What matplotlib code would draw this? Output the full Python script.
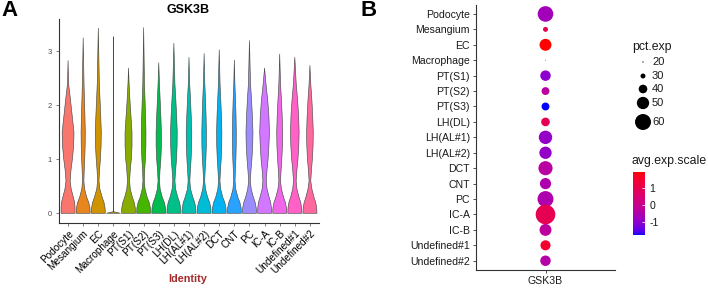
import numpy as np
import matplotlib
matplotlib.use("Agg")
import matplotlib.pyplot as plt
from matplotlib.colors import LinearSegmentedColormap, Normalize
from matplotlib.patches import Polygon
import matplotlib.colorbar as mcolorbar

plt.rcParams['font.family'] = ['Liberation Sans', 'DejaVu Sans']

# ---------------- data ----------------
categories = ["Podocyte", "Mesangium", "EC", "Macrophage", "PT(S1)", "PT(S2)", "PT(S3)",
              "LH(DL)", "LH(AL#1)", "LH(AL#2)", "DCT", "CNT", "PC", "IC-A", "IC-B",
              "Undefined#1", "Undefined#2"]

# violin maxima (expression level)
violin_max = [2.83, 3.25, 3.43, 3.27, 2.69, 3.44, 2.79, 3.15, 2.89, 2.96, 3.03, 2.84,
              3.20, 2.69, 2.95, 2.89, 2.74]
# relative half-widths of each violin at these expression levels
violin_levels = [0, 0.03, 0.1, 0.2, 0.3, 0.45, 0.6, 0.8, 1.0, 1.25, 1.5, 1.8, 2.1, 2.4]
violin_widths = [
    [1, 1, 1, 0.95, 0.75, 0.45, 0.30, 0.42, 0.62, 0.80, 0.85, 0.60, 0.35, 0.08],
    [1, 1, 0.97, 0.80, 0.50, 0.20, 0.10, 0.15, 0.22, 0.28, 0.30, 0.25, 0.18, 0.12],
    [1, 1, 0.97, 0.82, 0.55, 0.22, 0.10, 0.18, 0.30, 0.40, 0.43, 0.35, 0.25, 0.15],
    [1, 0.02, 0.015, 0.01, 0.01, 0.01, 0.01, 0.01, 0.01, 0.01, 0.01, 0.01, 0.01, 0.01],
    [1, 1, 0.97, 0.82, 0.55, 0.25, 0.15, 0.25, 0.40, 0.50, 0.50, 0.35, 0.20, 0.08],
    [1, 1, 0.97, 0.80, 0.50, 0.20, 0.10, 0.15, 0.25, 0.32, 0.33, 0.28, 0.20, 0.12],
    [1, 1, 0.97, 0.80, 0.50, 0.20, 0.10, 0.18, 0.30, 0.38, 0.38, 0.30, 0.20, 0.10],
    [1, 1, 0.97, 0.82, 0.55, 0.25, 0.15, 0.25, 0.38, 0.46, 0.48, 0.40, 0.28, 0.15],
    [1, 1, 0.97, 0.82, 0.55, 0.22, 0.12, 0.20, 0.30, 0.38, 0.40, 0.32, 0.22, 0.10],
    [1, 1, 0.97, 0.80, 0.50, 0.20, 0.08, 0.15, 0.25, 0.32, 0.33, 0.28, 0.20, 0.10],
    [1, 1, 0.97, 0.80, 0.50, 0.20, 0.10, 0.18, 0.28, 0.36, 0.38, 0.32, 0.22, 0.12],
    [1, 1, 0.97, 0.80, 0.50, 0.20, 0.10, 0.15, 0.22, 0.27, 0.28, 0.24, 0.17, 0.08],
    [1, 1, 0.97, 0.82, 0.55, 0.25, 0.12, 0.22, 0.35, 0.46, 0.50, 0.42, 0.30, 0.15],
    [1, 1, 0.98, 0.88, 0.65, 0.35, 0.24, 0.35, 0.50, 0.62, 0.70, 0.62, 0.45, 0.20],
    [1, 1, 0.97, 0.82, 0.55, 0.25, 0.12, 0.20, 0.30, 0.40, 0.43, 0.36, 0.25, 0.12],
    [1, 1, 0.98, 0.85, 0.60, 0.30, 0.19, 0.30, 0.45, 0.57, 0.62, 0.55, 0.40, 0.20],
    [1, 1, 0.97, 0.83, 0.58, 0.28, 0.12, 0.22, 0.35, 0.45, 0.48, 0.40, 0.28, 0.12],
]

# dot plot
pct_exp = [59, 30, 49, 19, 45, 38, 38, 40, 53, 50, 55, 47, 60, 70, 49, 44, 45]
avg_exp_scale = [-0.7, 1.0, 1.94, 1.2, -1.0, -0.3, -1.76, 0.9, -0.9, -0.9, -0.3, -0.5,
                 -0.5, 1.0, -0.2, 1.5, -0.4]
pct_legend = [20, 30, 40, 50, 60]
cbar_ticks = [-1, 0, 1]
gene = "GSK3B"

# ---------------- helpers (colour spaces) ----------------
def hcl_to_rgb(h, c=100.0, l=65.0):
    Xn, Yn, Zn = 95.047, 100.0, 108.883
    un = 4 * Xn / (Xn + 15 * Yn + 3 * Zn)
    vn = 9 * Yn / (Xn + 15 * Yn + 3 * Zn)
    hr = np.deg2rad(h)
    u, v = c * np.cos(hr), c * np.sin(hr)
    Y = Yn * ((l + 16) / 116) ** 3
    up = u / (13 * l) + un
    vp = v / (13 * l) + vn
    X = 9.0 * Y * up / (4 * vp)
    Z = -X / 3 - 5 * Y + 3 * Y / vp
    M = np.array([[3.240479, -1.537150, -0.498535],
                  [-0.969256, 1.875992, 0.041556],
                  [0.055648, -0.204043, 1.057311]])
    rgb = M @ (np.array([X, Y, Z]) / 100.0)
    rgb = np.where(rgb <= 0.0031308, 12.92 * rgb, 1.055 * np.power(np.clip(rgb, 0, None), 1 / 2.4) - 0.055)
    return tuple(np.clip(rgb, 0, 1))

def srgb_to_lab(rgb):
    rgb = np.asarray(rgb, float)
    lin = np.where(rgb <= 0.04045, rgb / 12.92, ((rgb + 0.055) / 1.055) ** 2.4)
    M = np.array([[0.4124, 0.3576, 0.1805], [0.2126, 0.7152, 0.0722], [0.0193, 0.1192, 0.9505]])
    xyz = M @ lin / np.array([0.95047, 1.0, 1.08883])
    f = np.where(xyz > 0.008856, np.cbrt(xyz), 7.787 * xyz + 16 / 116)
    return np.array([116 * f[1] - 16, 500 * (f[0] - f[1]), 200 * (f[1] - f[2])])

def lab_to_srgb(lab):
    L, a, b = lab
    fy = (L + 16) / 116
    fx = fy + a / 500
    fz = fy - b / 200
    f = np.array([fx, fy, fz])
    xyz = np.where(f ** 3 > 0.008856, f ** 3, (f - 16 / 116) / 7.787) * np.array([0.95047, 1.0, 1.08883])
    Minv = np.array([[3.2406, -1.5372, -0.4986], [-0.9689, 1.8758, 0.0415], [0.0557, -0.2040, 1.0570]])
    lin = Minv @ xyz
    rgb = np.where(lin <= 0.0031308, 12.92 * lin, 1.055 * np.power(np.clip(lin, 0, None), 1 / 2.4) - 0.055)
    return tuple(np.clip(rgb, 0, 1))

lab_lo = srgb_to_lab([0, 0, 1])
lab_hi = srgb_to_lab([1, 0, 0])
cmap_cols = [lab_to_srgb(lab_lo + t * (lab_hi - lab_lo)) for t in np.linspace(0, 1, 64)]
cmap = LinearSegmentedColormap.from_list("bluered", cmap_cols)
norm = Normalize(vmin=-1.76, vmax=1.94)

n = len(categories)
hues = np.linspace(15, 375, n + 1)[:-1]
violin_cols = [hcl_to_rgb(h) for h in hues]

# ---------------- figure ----------------
W, H = 708, 288
fig = plt.figure(figsize=(W / 100, H / 100), dpi=100)

def ax_px(x0, y0, x1, y1):
    return fig.add_axes([x0 / W, 1 - y1 / H, (x1 - x0) / W, (y1 - y0) / H])

# overlay axes in pixel coordinates for free text / legend
ov = fig.add_axes([0, 0, 1, 1], zorder=-1)
ov.set_xlim(0, W)
ov.set_ylim(H, 0)
ov.axis("off")

# ---- Panel A: violins ----
axA = ax_px(59, 19, 319, 223)
half = 0.46
for i in range(n):
    lv = list(violin_levels) + [violin_max[i]]
    wd = [w * half for w in violin_widths[i]] + [0.0]
    right = [(i + w, y) for y, w in zip(lv, wd)]
    left = [(i - w, y) for y, w in zip(lv[::-1], wd[::-1])]
    poly = Polygon(right + left, closed=True, facecolor=violin_cols[i],
                   edgecolor="#4a4a4a", linewidth=0.45, joinstyle="round")
    axA.add_patch(poly)
axA.set_xlim(-0.6, n - 1 + 0.6)
axA.set_ylim(-0.18, 3.6)
axA.set_yticks([0, 1, 2, 3])
axA.tick_params(axis="y", labelsize=5.5, colors="#4d4d4d", length=2, width=0.5, pad=3)
axA.set_xticks(range(n))
axA.set_xticklabels(categories, rotation=45, ha="right", rotation_mode="anchor",
                    fontsize=7.2, color="black")
axA.tick_params(axis="x", length=2, width=0.5, colors="#4d4d4d", pad=2, labelcolor="black")
for s in ["top", "right"]:
    axA.spines[s].set_visible(False)
for s in ["left", "bottom"]:
    axA.spines[s].set_linewidth(0.8)
    axA.spines[s].set_color("#333333")
ov.text(188, 10, gene, fontsize=9, fontweight="bold", ha="center", va="center")
ov.text(188, 279, "Identity", fontsize=7.8, fontweight="bold", color="#A52A2A",
        ha="center", va="center")
ov.text(1, 10, "A", fontsize=16, fontweight="bold", ha="left", va="center")
ov.text(361, 10, "B", fontsize=16, fontweight="bold", ha="left", va="center")

# ---- Panel B: dot plot ----
def pct_to_size(p):
    d_px = np.clip(0.367 * (np.asarray(p, float) - 16.5), 0.6, None)
    return (d_px * 72 / 100) ** 2

axB = ax_px(476, 5, 615, 270)
axB.scatter(np.zeros(n), np.arange(n), s=pct_to_size(pct_exp), c=avg_exp_scale,
            cmap=cmap, norm=norm, linewidths=0)
axB.set_xlim(-1, 1)
axB.set_ylim(n - 1 + 0.6, -0.58)
axB.set_yticks(range(n))
axB.set_yticklabels(categories, fontsize=7.6)
axB.set_xticks([0])
axB.set_xticklabels([gene], fontsize=7.6)
axB.tick_params(length=2.5, width=0.6, colors="#333333", labelcolor="#1a1a1a", pad=2)
for s in ["top", "right"]:
    axB.spines[s].set_visible(False)
for s in ["left", "bottom"]:
    axB.spines[s].set_linewidth(0.8)
    axB.spines[s].set_color("#333333")

# pct.exp legend
ov.text(632, 47, "pct.exp", fontsize=8.8, ha="left", va="center", color="#1a1a1a")
leg_y = [62, 76, 89, 103, 122]
ov.scatter([643] * len(pct_legend), leg_y, s=pct_to_size(pct_legend), c="black", linewidths=0)
for p, y in zip(pct_legend, leg_y):
    ov.text(652, y, str(p), fontsize=8, ha="left", va="center", color="#1a1a1a")

# colour bar legend
ov.text(632, 161, "avg.exp.scale", fontsize=8.8, ha="left", va="center", color="#1a1a1a")
cax = ax_px(633, 172, 645, 235)
cb = mcolorbar.ColorbarBase(cax, cmap=cmap, norm=norm, orientation="vertical")
cb.outline.set_visible(False)
cb.set_ticks(cbar_ticks)
cb.set_ticklabels([str(t) for t in cbar_ticks])
cax.tick_params(labelsize=7.6, length=2, width=0.6, color="white", direction="in",
                labelcolor="#1a1a1a", pad=3)

fig.savefig("out.png", dpi=100)
